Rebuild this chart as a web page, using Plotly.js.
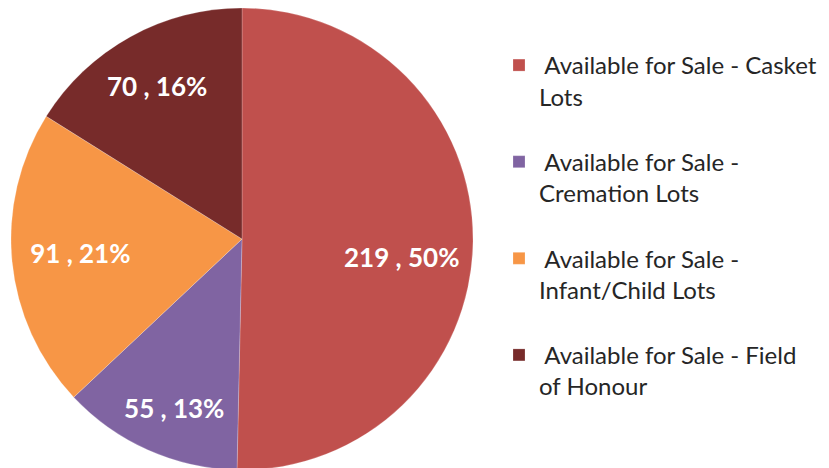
<!DOCTYPE html>
<html>
<head>
<meta charset="utf-8">
<script src="https://cdn.plot.ly/plotly-3.0.1.min.js"></script>
<style>
html,body{margin:0;padding:0;background:#fff;overflow:hidden;}
#chart{width:829px;height:472px;}
</style>
</head>
<body>
<div id="chart"></div>
<script>
const categories = [
  "Available for Sale - Casket<br>Lots",
  "Available for Sale -<br>Cremation Lots",
  "Available for Sale -<br>Infant/Child Lots",
  "Available for Sale - Field<br>of Honour"
];
const values = [219, 55, 91, 70];
const colors = ["#C0504D", "#8064A2", "#F79646", "#772B2A"];

const FS = 24;
const sp = '<span style="font-size:' + FS + 'px">';
const legendNames = categories.map(c => {
  const parts = c.split('<br>');
  return sp + ' ' + parts[0] + '</span><br>' + sp + parts[1] + '</span><br>&nbsp;';
});

const nb = n => '&nbsp;'.repeat(n);
const labelTemplates = [
  '&nbsp;<br>' + nb(14) + '%{value} , %{percent:.0%}',
  '&nbsp;<br>%{value} , %{percent:.0%}',
  '%{value} , %{percent:.0%}' + nb(6),
  '%{value} , %{percent:.0%}' + nb(3) + '<br>&nbsp;'
];

const W = 829, H = 472;
const cx = 242, cy = 239, r = 231;

const trace = {
  type: 'pie',
  labels: legendNames,
  values: values,
  sort: false,
  direction: 'clockwise',
  rotation: 0,
  marker: {colors: colors, line: {color: 'rgba(255,255,255,0.35)', width: 0.6}},
  texttemplate: labelTemplates,
  textposition: 'inside',
  insidetextorientation: 'horizontal',
  insidetextfont: {family: 'Lato, "Open Sans", sans-serif', size: 26, color: '#ffffff', weight: 'bold'},
  hoverinfo: 'label+value+percent',
  domain: {x: [(cx - r) / W, (cx + r) / W], y: [(H - (cy + r)) / H, (H - (cy - r)) / H]}
};

const layout = {
  width: W, height: H,
  margin: {l: 0, r: 0, t: 0, b: 0},
  paper_bgcolor: '#ffffff',
  showlegend: true,
  legend: {
    x: 499 / W, y: (H - 43) / H, xanchor: 'left', yanchor: 'top',
    font: {family: 'Lato, "Open Sans", sans-serif', size: 24, color: '#262626'},
    valign: 'top',
    itemwidth: 30,
    bgcolor: 'rgba(0,0,0,0)'
  }
};

Plotly.newPlot('chart', [trace], layout, {displayModeBar: false, staticPlot: true});
</script>
</body>
</html>
